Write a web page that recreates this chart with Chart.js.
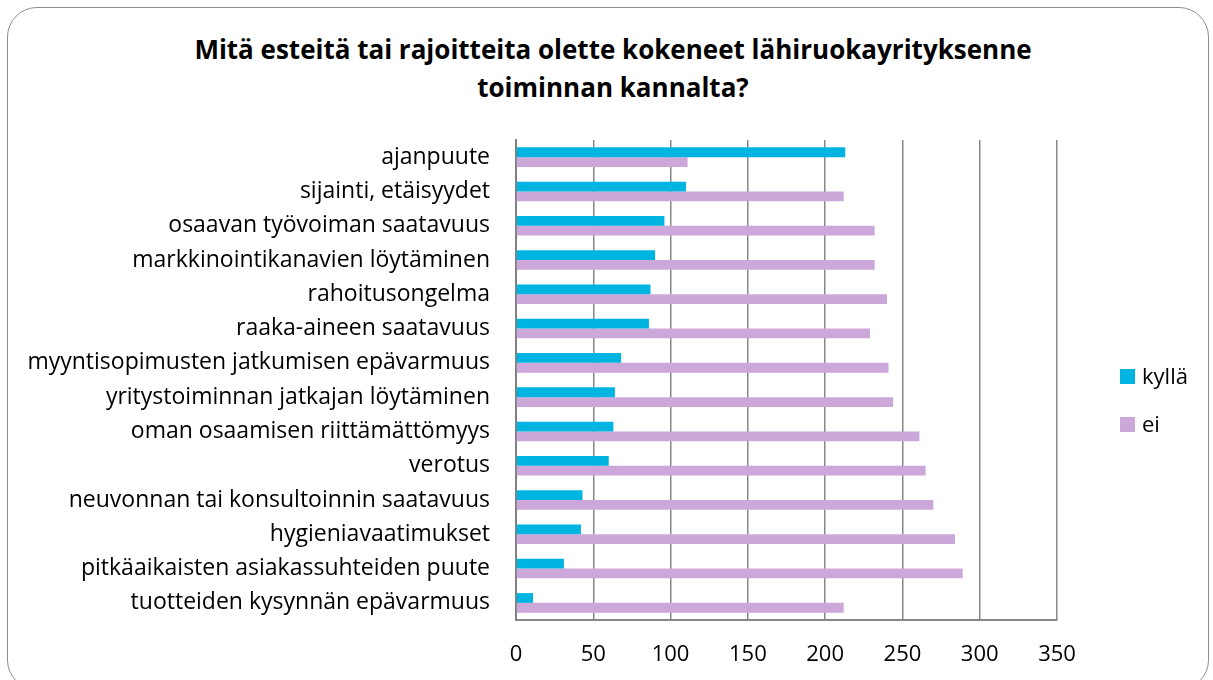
<!DOCTYPE html>
<html>
<head>
<meta charset="utf-8">
<script src="https://cdn.jsdelivr.net/npm/chart.js@4.4.1/dist/chart.umd.min.js"></script>
<style>
  html, body { margin: 0; padding: 0; background: #fff; }
  #wrap { position: relative; width: 1213px; height: 680px; overflow: hidden; font-family: "Open Sans", sans-serif; }
  #frame { position: absolute; left: 7px; top: 7px; width: 1202px; height: 683px; border: 1px solid #8c8c8c; border-radius: 30px; box-sizing: border-box; }
  #title { position: absolute; left: 0; top: 30px; width: 1226px; text-align: center; font-weight: bold; font-size: 26px; line-height: 38px; color: #000; }
  #legend { position: absolute; left: 1120px; top: 359px; font-size: 22px; color: #000; }
  #legend div { height: 48px; line-height: 32px; }
  #legend span.box { display: inline-block; width: 15px; height: 15px; margin-right: 7px; vertical-align: 0px; }
  #chartBox { position: absolute; left: 0; top: 0; width: 1213px; height: 680px; }
</style>
</head>
<body>
<div id="wrap">
  <div id="frame"></div>
  <div id="title">Mitä esteitä tai rajoitteita olette kokeneet lähiruokayrityksenne<br>toiminnan kannalta?</div>
  <div id="chartBox"><canvas id="chart"></canvas></div>
  <div id="legend"></div>
</div>
<script>
// ===============================
// DATA
// ===============================
const categories = [
  "ajanpuute",
  "sijainti, etäisyydet",
  "osaavan työvoiman saatavuus",
  "markkinointikanavien löytäminen",
  "rahoitusongelma",
  "raaka-aineen saatavuus",
  "myyntisopimusten jatkumisen epävarmuus",
  "yritystoiminnan jatkajan löytäminen",
  "oman osaamisen riittämättömyys",
  "verotus",
  "neuvonnan tai konsultoinnin saatavuus",
  "hygieniavaatimukset",
  "pitkäaikaisten asiakassuhteiden puute",
  "tuotteiden kysynnän epävarmuus"
];
const seriesNames = ["kyllä", "ei"];
const kylla = [213, 110, 96, 90, 87, 86, 68, 64, 63, 60, 43, 42, 31, 11];
const ei = [111, 212, 232, 232, 240, 229, 241, 244, 261, 265, 270, 284, 289, 212];
const xTicks = [0, 50, 100, 150, 200, 250, 300, 350];
const seriesColors = ["#00B4E2", "#CCA7D9"];

// ===============================
// CHART
// ===============================
const ctx = document.getElementById("chart");

const chart = new Chart(ctx, {
  type: "bar",
  data: {
    labels: categories,
    datasets: [
      { label: seriesNames[0], data: kylla, backgroundColor: seriesColors[0], borderWidth: 0 },
      { label: seriesNames[1], data: ei, backgroundColor: seriesColors[1], borderWidth: 0 }
    ]
  },
  options: {
    indexAxis: "y",
    responsive: true,
    maintainAspectRatio: false,
    animation: false,
    datasets: { bar: { categoryPercentage: 0.57, barPercentage: 1.0 } },
    layout: { padding: { top: 140, right: 156, bottom: 0, left: 10 } },
    scales: {
      x: {
        min: 0,
        max: 350,
        afterBuildTicks: (scale) => { scale.ticks = xTicks.map(v => ({ value: v })); },
        afterFit: (scale) => { scale.height = 60; },
        grid: { color: "#888888", lineWidth: 1.5, drawTicks: false },
        border: { color: "#888888", width: 2 },
        ticks: { color: "#000", font: { family: "Open Sans", size: 22 }, padding: 22 }
      },
      y: {
        afterFit: (scale) => { scale.width = 506; },
        grid: { display: false, drawTicks: false },
        border: { color: "#808080", width: 2 },
        ticks: { color: "#000", font: { family: "Open Sans", size: 23 }, padding: 26, autoSkip: false }
      }
    },
    plugins: {
      legend: { display: false },
      tooltip: { enabled: false }
    }
  }
});

// Leyenda (HTML)
const legendBox = document.getElementById("legend");
seriesNames.forEach((name, i) => {
  const row = document.createElement("div");
  row.innerHTML = `<span class="box" style="background:${seriesColors[i]}"></span>${name}`;
  legendBox.appendChild(row);
});
</script>
</body>
</html>
